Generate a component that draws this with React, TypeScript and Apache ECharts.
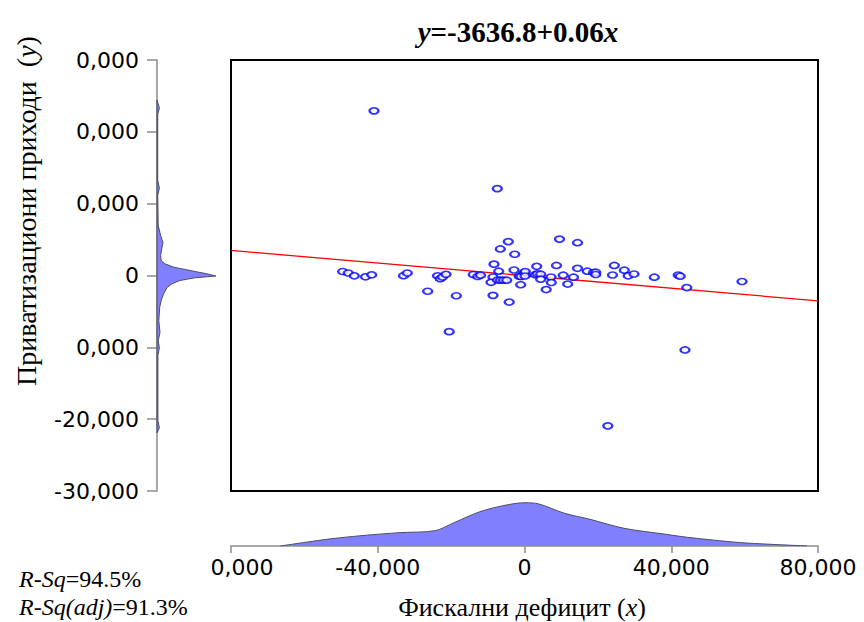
import React, { useEffect, useRef } from "react";
import * as echarts from "echarts";

// ---------------- data ----------------
const xRange = [-80000, 80000];
const yRange = [-30000, 30000];
const xTickStep = 40000;
const yTickStep = 10000;

// scatter: fiscal deficit (x) vs privatization revenue (y)
const scatterX = [
  -41022, -7414, -49553, -48027, -46391, -43339, -41649, -32981, -31945, -26385,
  -23714, -22978, -22351, -21397, -20525, -18589, -13956, -12756, -11993, -8313,
  -7032, -6596, -4416, -2671, -8586, -9131, -8586, -4170, -7359, -6542,
  -5724, -4852, -2862, -1445, -954, -1036, -82, 218, 136, 3325,
  2917, 3543, 4416, 4416, 5915, 7223, 7305, 8722, 9540, 10548,
  11775, 13356, 14446, 14446, 17117, 18807, 19407, 19407, 23986, 24477,
  27203, 28265, 29846, 35380, 41894, 42439, 44238, 43747, 22705, 59284,
];
const scatterY = [
  22925, 12097, 558, 349, -42, -181, 98, -28, 349, -2191,
  -42, -447, -209, 167, -7814, -2818, 140, -140, 42, 1577,
  600, 3698, 4716, 2958, -209, -949, -2763, -3698, -628, -656,
  -656, -656, 767, -98, -140, -1284, 419, 558, -70, 1284,
  112, 237, 181, -516, -1953, -209, -977, 1395, 5065, 42,
  -1186, -237, 4563, 1005, 600, 419, 460, 140, 70, 1395,
  740, -42, 209, -237, 70, -98, -1674, -10367, -20930, -837,
];

// fitted line as drawn
const fitX = [-80000, 80000];
const fitY = [3490, -3530];

// marginal density of x (relative height)
const xDensX = [
  -66506, -53833, -44565, -34208, -24395, -19216, -12129, -5315, 136, 3952,
  10930, 17853, 27120, 38568, 44429, 56013, 61737, 77000,
];
const xDensV = [
  0, 0.146, 0.224, 0.289, 0.333, 0.507, 0.746, 0.885, 0.941, 0.913,
  0.711, 0.58, 0.385, 0.254, 0.189, 0.093, 0.059, 0,
];

// marginal density of y (relative width)
const yDensY = [
  24418, 23302, 22465, 13255, 12139, 11162, 6977, 5581, 4604, 3767,
  2791, 2093, 1633, 1158, 698, 237, -70, -321, -698, -1158,
  -1633, -2553, -3488, -4423, -6279, -7953, -9070, -10046, -11162, -20232,
  -21209, -21906,
];
const yDensV = [
  0, 0.04, 0.012, 0.012, 0.04, 0.012, 0.02, 0.06, 0.1, 0.08,
  0.06, 0.07, 0.13, 0.28, 0.55, 0.83, 0.98, 0.63, 0.38, 0.25,
  0.17, 0.11, 0.07, 0.045, 0.03, 0.05, 0.02, 0.04, 0.015, 0.015,
  0.04, 0,
];

const titleText = "{i|y}{b|=-3636.8+0.06}{i|x}";
const yTitle = "Приватизациони приходи  (";
const xTitle = "Фискални дефицит (";
const rsq = "=94.5%";
const rsqAdj = "=91.3%";

const fmt = (v: number) => String(v).replace(/\B(?=(\d{3})+(?!\d))/g, ",");

const SERIF = "'Liberation Serif', 'Times New Roman', serif";
const SANS = "'DejaVu Sans', Verdana, sans-serif";
const AXIS_GRAY = "#8c8c8c";
const FILL = "#8080ff";
const OUTLINE = "#4d4d66";

export default function App() {
  const ref = useRef<HTMLDivElement>(null);

  useEffect(() => {
    if (!ref.current) return;
    const chart = echarts.init(ref.current, undefined, { renderer: "svg" });

    const axisLabelStyle = {
      fontSize: 22,
      fontFamily: SANS,
      color: "#000",
      formatter: (v: number) => fmt(v),
    };

    const option: any = {
      animation: false,
      backgroundColor: "#fff",
      grid: [
        { left: 231, top: 60, width: 587, height: 431, show: true, borderColor: "#000", borderWidth: 2, backgroundColor: "transparent" },
        { left: 231, top: 500, width: 587, height: 46 },
        { left: 157, top: 60, width: 60, height: 431 },
      ],
      xAxis: [
        { gridIndex: 0, type: "value", min: xRange[0], max: xRange[1], show: false },
        {
          gridIndex: 1, type: "value", min: xRange[0], max: xRange[1], interval: xTickStep,
          position: "bottom",
          axisLine: { show: true, onZero: false, lineStyle: { color: AXIS_GRAY, width: 1.5 } },
          axisTick: { show: true, length: 7, lineStyle: { color: AXIS_GRAY, width: 1.5 } },
          axisLabel: { ...axisLabelStyle, margin: 10 },
          splitLine: { show: false },
        },
        { gridIndex: 2, type: "value", min: 0, max: 1, show: false },
      ],
      yAxis: [
        { gridIndex: 0, type: "value", min: yRange[0], max: yRange[1], show: false },
        { gridIndex: 1, type: "value", min: 0, max: 1, show: false },
        {
          gridIndex: 2, type: "value", min: yRange[0], max: yRange[1], interval: yTickStep,
          position: "left",
          axisLine: { show: true, onZero: false, lineStyle: { color: AXIS_GRAY, width: 1.5 } },
          axisTick: { show: true, length: 10, lineStyle: { color: AXIS_GRAY, width: 1.5 } },
          axisLabel: { ...axisLabelStyle, margin: 18 },
          splitLine: { show: false },
        },
      ],
      series: [
        {
          type: "line",
          xAxisIndex: 0, yAxisIndex: 0,
          data: fitX.map((x, i) => [x, fitY[i]]),
          showSymbol: false,
          lineStyle: { color: "#ff0000", width: 1.3 },
          z: 2,
        },
        {
          type: "scatter",
          xAxisIndex: 0, yAxisIndex: 0,
          data: scatterX.map((x, i) => [x, scatterY[i]]),
          symbol: "emptyCircle",
          symbolSize: [9, 6],
          itemStyle: { color: "#0000ff", borderColor: "#0000ff", borderWidth: 1.3 },
          z: 3,
        },
        {
          type: "line",
          xAxisIndex: 1, yAxisIndex: 1,
          data: xDensX.map((x, i) => [x, xDensV[i]]),
          showSymbol: false,
          smooth: 0.3,
          lineStyle: { color: OUTLINE, width: 1 },
          areaStyle: { color: FILL, opacity: 1 },
        },
        {
          type: "custom",
          coordinateSystem: "cartesian2d",
          xAxisIndex: 2, yAxisIndex: 2,
          data: [[0, 0]],
          renderItem: (params: any, api: any) => {
            if (params.dataIndex !== 0) return null;
            const pts = yDensY.map((y, i) => api.coord([yDensV[i], y]));
            const start = api.coord([0, yDensY[0]]);
            const end = api.coord([0, yDensY[yDensY.length - 1]]);
            return {
              type: "polygon",
              shape: { points: [start, ...pts, end] },
              style: { fill: FILL, stroke: OUTLINE, lineWidth: 1 },
            };
          },
        },
      ],
      graphic: [
        { type: "rect", z: 100, shape: { x: 0, y: 0, width: 75, height: 400 }, style: { fill: "#fff" } },
        { type: "rect", z: 100, shape: { x: 0, y: 552, width: 212, height: 70 }, style: { fill: "#fff" } },
        {
          type: "text", z: 101, x: 518, y: 32,
          style: {
            text: titleText,
            textAlign: "center", textVerticalAlign: "middle",
            rich: {
              i: { fontSize: 29, fontFamily: SERIF, fontWeight: "bold", fontStyle: "italic", fill: "#000" },
              b: { fontSize: 29, fontFamily: SERIF, fontWeight: "bold", fill: "#000" },
            },
          },
        },
        {
          type: "text", z: 101, x: 26, y: 211, rotation: Math.PI / 2,
          style: {
            text: "{n|" + yTitle + "}{i|y}{n|)}",
            textAlign: "center", textVerticalAlign: "middle",
            rich: {
              n: { fontSize: 28, fontFamily: SERIF, fill: "#000" },
              i: { fontSize: 28, fontFamily: SERIF, fontStyle: "italic", fill: "#000" },
            },
          },
        },
        {
          type: "text", z: 101, x: 522, y: 607,
          style: {
            text: "{n|" + xTitle + "}{i|x}{n|)}",
            textAlign: "center", textVerticalAlign: "middle",
            rich: {
              n: { fontSize: 26, fontFamily: SERIF, fill: "#000" },
              i: { fontSize: 26, fontFamily: SERIF, fontStyle: "italic", fill: "#000" },
            },
          },
        },
        {
          type: "text", z: 101, x: 19, y: 579,
          style: {
            text: "{i|R-Sq}{n|" + rsq + "}",
            textAlign: "left", textVerticalAlign: "middle",
            rich: {
              n: { fontSize: 24, fontFamily: SERIF, fill: "#000" },
              i: { fontSize: 24, fontFamily: SERIF, fontStyle: "italic", fill: "#000" },
            },
          },
        },
        {
          type: "text", z: 101, x: 19, y: 607,
          style: {
            text: "{i|R-Sq(adj)}{n|" + rsqAdj + "}",
            textAlign: "left", textVerticalAlign: "middle",
            rich: {
              n: { fontSize: 24, fontFamily: SERIF, fill: "#000" },
              i: { fontSize: 24, fontFamily: SERIF, fontStyle: "italic", fill: "#000" },
            },
          },
        },
      ],
    };

    chart.setOption(option);
    return () => chart.dispose();
  }, []);

  return (
    <div
      ref={ref}
      style={{ position: "fixed", left: 0, top: 0, width: 864, height: 622, background: "#fff" }}
    />
  );
}
